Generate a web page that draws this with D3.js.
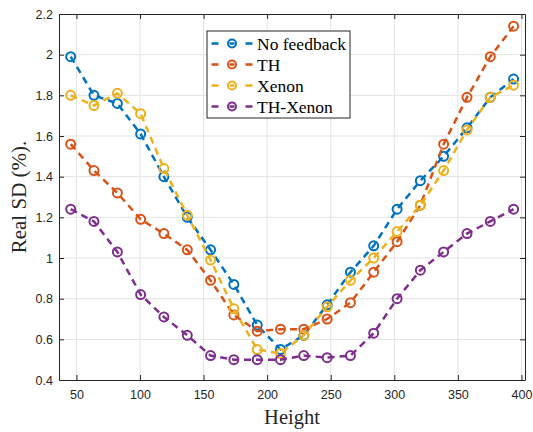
<!DOCTYPE html>
<html>
<head>
<meta charset="utf-8">
<script src="https://cdn.jsdelivr.net/npm/d3@7"></script>
<style>
  body { margin: 0; background: #fff; }
  svg { display: block; }
</style>
</head>
<body>
<div id="chart"></div>
<script>
// heights (x) and real SD values for each setting
var heights = [45.5, 63.8, 82.2, 100.5, 118.8, 137.2, 155.5, 173.8, 192.2, 210.5,
               228.8, 247.2, 265.5, 283.8, 302.2, 320.5, 338.8, 357.2, 375.5, 393.8];
var noFeedback = [1.99, 1.80, 1.76, 1.61, 1.40, 1.20, 1.04, 0.87, 0.67, 0.55,
                  0.62, 0.77, 0.93, 1.06, 1.24, 1.38, 1.50, 1.64, 1.79, 1.88];
var th = [1.56, 1.43, 1.32, 1.19, 1.12, 1.04, 0.89, 0.72, 0.64, 0.65,
          0.65, 0.70, 0.78, 0.93, 1.08, 1.26, 1.56, 1.79, 1.99, 2.14];
var xenon = [1.80, 1.75, 1.81, 1.71, 1.44, 1.21, 0.99, 0.75, 0.55, 0.53,
             0.62, 0.76, 0.89, 1.00, 1.13, 1.26, 1.43, 1.63, 1.79, 1.85];
var thXenon = [1.24, 1.18, 1.03, 0.82, 0.71, 0.62, 0.52, 0.50, 0.50, 0.50,
               0.52, 0.51, 0.52, 0.63, 0.80, 0.94, 1.03, 1.12, 1.18, 1.24];
var seriesNames = ['No feedback', 'TH', 'Xenon', 'TH-Xenon'];
var seriesColors = ['#0072BD', '#D95319', '#EDB120', '#7E2F8E'];
var xTicks = [50, 100, 150, 200, 250, 300, 350, 400];
var yTicks = [0.4, 0.6, 0.8, 1, 1.2, 1.4, 1.6, 1.8, 2, 2.2];

var series = [noFeedback, th, xenon, thXenon].map(function(vals, i) {
    return {
        name: seriesNames[i],
        color: seriesColors[i],
        points: vals.map(function(v, j) { return { x: heights[j], y: v }; })
    };
});

var width = 533,
    height = 432,
    margin = { top: 14, right: 8, bottom: 52, left: 59 };

var svg = d3.select('#chart').append('svg')
    .attr('width', width)
    .attr('height', height);

var x = d3.scaleLinear()
    .domain([36.3, 402.8])
    .range([margin.left, width - margin.right]);

var y = d3.scaleLinear()
    .domain([0.4, 2.2])
    .range([height - margin.bottom, margin.top]);

var plotW = width - margin.right - margin.left,
    plotH = height - margin.bottom - margin.top;

// grid
var grid = svg.append('g').attr('class', 'grid');

grid.selectAll('line.gx')
    .data(xTicks)
    .enter().append('line')
    .attr('class', 'gx')
    .attr('x1', function(d) { return x(d); })
    .attr('x2', function(d) { return x(d); })
    .attr('y1', margin.top)
    .attr('y2', height - margin.bottom)
    .attr('stroke', '#e3e3e3')
    .attr('stroke-width', 1);

grid.selectAll('line.gy')
    .data(yTicks.slice(1, -1))
    .enter().append('line')
    .attr('class', 'gy')
    .attr('x1', margin.left)
    .attr('x2', width - margin.right)
    .attr('y1', function(d) { return y(d); })
    .attr('y2', function(d) { return y(d); })
    .attr('stroke', '#e3e3e3')
    .attr('stroke-width', 1);

// axes, ticks inward on all four sides
var axisColor = '#262626';
var xAxis = svg.append('g')
    .attr('transform', 'translate(0,' + (height - margin.bottom) + ')')
    .call(d3.axisBottom(x).tickValues(xTicks).tickSizeInner(-5).tickSizeOuter(0).tickPadding(10));
var xAxisTop = svg.append('g')
    .attr('transform', 'translate(0,' + margin.top + ')')
    .call(d3.axisTop(x).tickValues(xTicks).tickSizeInner(-5).tickSizeOuter(0).tickFormat(''));
var yAxis = svg.append('g')
    .attr('transform', 'translate(' + margin.left + ',0)')
    .call(d3.axisLeft(y).tickValues(yTicks).tickSizeInner(-5).tickSizeOuter(0).tickPadding(6)
        .tickFormat(function(d) { return d3.format('')(+d.toFixed(1)); }));
var yAxisRight = svg.append('g')
    .attr('transform', 'translate(' + (width - margin.right) + ',0)')
    .call(d3.axisRight(y).tickValues(yTicks).tickSizeInner(-5).tickSizeOuter(0).tickFormat(''));

[xAxis, xAxisTop, yAxis, yAxisRight].forEach(function(g) {
    g.select('.domain').attr('stroke', axisColor);
    g.selectAll('.tick line').attr('stroke', axisColor);
    g.selectAll('.tick text')
        .attr('fill', '#262626')
        .style('font-family', '"Liberation Sans", Arial, sans-serif')
        .style('font-size', '12.5px');
});

// lines
var line = d3.line()
    .x(function(d) { return x(d.x); })
    .y(function(d) { return y(d.y); });

var groups = svg.selectAll('g.series')
    .data(series)
    .enter().append('g')
    .attr('class', 'series');

groups.append('path')
    .attr('d', function(d) { return line(d.points); })
    .attr('fill', 'none')
    .attr('stroke', function(d) { return d.color; })
    .attr('stroke-width', 2.5)
    .attr('stroke-dasharray', '7,5');

groups.selectAll('circle')
    .data(function(d) { return d.points.map(function(p) { return { p: p, color: d.color }; }); })
    .enter().append('circle')
    .attr('cx', function(d) { return x(d.p.x); })
    .attr('cy', function(d) { return y(d.p.y); })
    .attr('r', 4.5)
    .attr('fill', 'none')
    .attr('stroke', function(d) { return d.color; })
    .attr('stroke-width', 2);

// legend
var legend = svg.append('g')
    .attr('transform', 'translate(207,31)');

legend.append('rect')
    .attr('width', 143)
    .attr('height', 87)
    .attr('fill', '#fff')
    .attr('stroke', axisColor)
    .attr('stroke-width', 1);

var items = legend.selectAll('g.item')
    .data(series)
    .enter().append('g')
    .attr('class', 'item')
    .attr('transform', function(d, i) { return 'translate(0,' + (12.5 + i * 21) + ')'; });

items.append('line')
    .attr('x1', 4.5)
    .attr('x2', 45.5)
    .attr('stroke', function(d) { return d.color; })
    .attr('stroke-width', 2.5)
    .attr('stroke-dasharray', '7,11,5,11,7');

items.append('circle')
    .attr('cx', 25)
    .attr('r', 4)
    .attr('fill', 'none')
    .attr('stroke', function(d) { return d.color; })
    .attr('stroke-width', 2);

items.append('text')
    .attr('x', 50)
    .attr('dy', '0.35em')
    .style('font-family', '"Liberation Serif", "Times New Roman", serif')
    .style('font-size', '17.5px')
    .attr('fill', '#000')
    .text(function(d) { return d.name; });

// axis titles
svg.append('text')
    .attr('x', margin.left + plotW / 2)
    .attr('y', 424)
    .attr('text-anchor', 'middle')
    .style('font-family', '"Liberation Serif", "Times New Roman", serif')
    .style('font-size', '20.5px')
    .attr('fill', '#262626')
    .text('Height');

svg.append('text')
    .attr('transform', 'translate(26,' + (margin.top + plotH / 2) + ') rotate(-90)')
    .attr('text-anchor', 'middle')
    .style('font-family', '"Liberation Serif", "Times New Roman", serif')
    .style('font-size', '21px')
    .attr('fill', '#262626')
    .text('Real SD (%).');
</script>
</body>
</html>
